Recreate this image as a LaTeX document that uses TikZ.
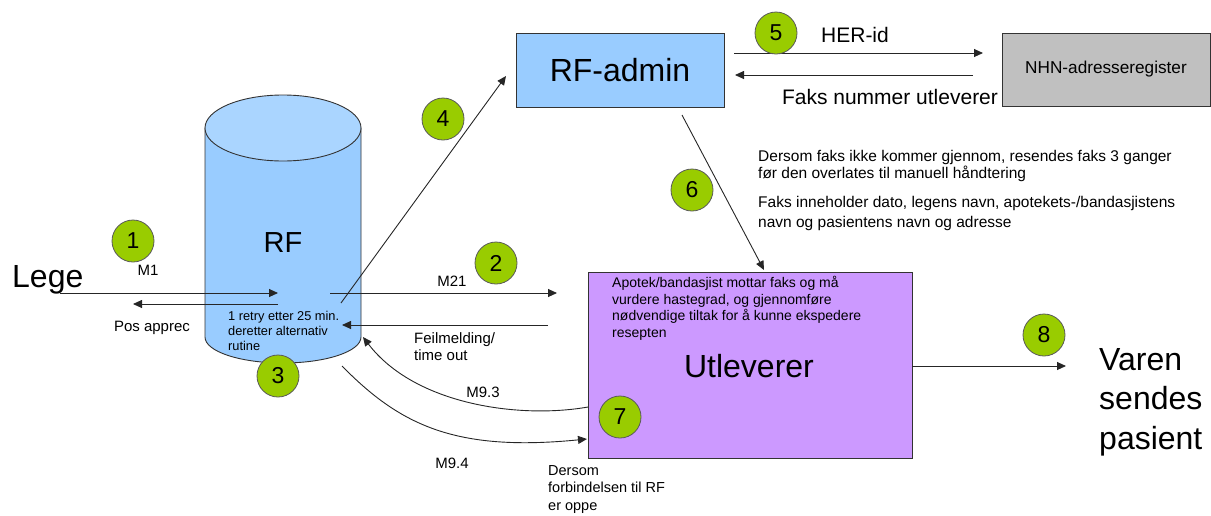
\documentclass[tikz,border=0pt]{standalone}
\usepackage{fontspec}
\setmainfont{Liberation Sans}
\usetikzlibrary{arrows.meta}
\newcommand\fsz[2]{\fontsize{#1}{#2}\selectfont}
\definecolor{rfblue}{HTML}{99CCFF}
\definecolor{rftop}{HTML}{AAD5FF}
\definecolor{lilac}{HTML}{CC99FF}
\definecolor{nhngray}{HTML}{C0C0C0}
\definecolor{stepgreen}{HTML}{99CC00}
\tikzset{
  flow/.style={draw=black!85, line width=0.9pt, -{Triangle[length=9pt,width=8pt]}},
  numdot/.style={circle, draw=black!65, line width=0.8pt, fill=stepgreen,
    minimum size=42pt, inner sep=0pt, font=\fsz{23}{26}},
  box/.style={draw=black!80, line width=0.9pt, inner sep=0pt},
  lbl/.style={inner sep=0pt, font=\fsz{15}{17}},
  note/.style={inner sep=0pt, align=left, anchor=north west},
}
\begin{document}
\begin{tikzpicture}[x=1pt, y=-1pt]
\useasboundingbox (0,0) rectangle (1211,515);

% RF database cylinder
\filldraw[fill=rfblue, draw=black!80, line width=0.9pt]
  (205,128) -- (205,337)
  .. controls (205,351.4) and (239.9,363) .. (283,363)
  .. controls (326.1,363) and (361,351.4) .. (361,337)
  -- (361,128) -- cycle;
\filldraw[fill=rftop, draw=black!80, line width=0.9pt]
  (283,128) ellipse [x radius=78pt, y radius=33pt];
\node[inner sep=0pt, font=\fsz{29}{32}] (rf) at (283,243) {RF};
\node[note, font=\fsz{12.8}{15}] (retry) at (228,311)
  {1 retry etter 25 min.\\deretter alternativ\\rutine};

% Boxes
\node[box, fill=rfblue, minimum width=208pt, minimum height=74pt,
  font=\fsz{32}{36}] (admin) at (620,70) {RF-admin};
\node[box, fill=nhngray, minimum width=208pt, minimum height=73pt,
  font=\fsz{17.2}{19}] (nhn) at (1106,69.5) {NHN-adresseregister};
\node[box, fill=lilac, minimum width=324pt, minimum height=186pt]
  (utl) at (750,365) {};
\node[inner sep=0pt, font=\fsz{32}{36}] (utltitle) at (749,366) {Utleverer};
\node[note, font=\fsz{14}{16.7}] (utltext) at (612,276)
  {Apotek/bandasjist mottar faks og må\\vurdere hastegrad, og gjennomføre\\nødvendige tiltak for å kunne ekspedere\\resepten};

% Free texts
\node[inner sep=0pt, anchor=base west, font=\fsz{32}{34}] (lege) at (12,287) {Lege};
\node[note, font=\fsz{32}{39.5}, anchor=west] (varen) at (1099,402)
  {Varen\\sendes\\pasient};
\node[note, font=\fsz{15.5}{17.5}] (info1) at (758,150)
  {Dersom faks ikke kommer gjennom, resendes faks 3 ganger\\før den overlates til manuell håndtering};
\node[note, font=\fsz{15.5}{20}] (info2) at (758,196)
  {Faks inneholder dato, legens navn, apotekets-/bandasjistens\\navn og pasientens navn og adresse};
\node[note, font=\fsz{14.5}{17.5}] (dersom) at (548,465)
  {Dersom\\forbindelsen til RF\\er oppe};

% Connector end points
\coordinate (legeA) at (60,293);
\coordinate (rfin) at (278,293);
\coordinate (rfback) at (278,304);
\coordinate (posend) at (133,304);
\coordinate (rfout) at (330,293);
\coordinate (m21end) at (557,293);
\coordinate (errstart) at (548,325);
\coordinate (errend) at (342,325);
\coordinate (rfup) at (341,303);
\coordinate (adminin) at (506,76);
\coordinate (herA) at (734,53);
\coordinate (herB) at (983,53);
\coordinate (faxA) at (973,75);
\coordinate (faxB) at (735,75);
\coordinate (adminlow) at (682,115);
\coordinate (utltop) at (764,270);
\coordinate (m93A) at (588,407);
\coordinate (m93B) at (363,337);
\coordinate (m94A) at (342,366);
\coordinate (m94B) at (587,439);
\coordinate (utlright) at (912,366);
\coordinate (shipend) at (1066,366);

% Connectors
\draw[flow] (legeA) -- (rfin);
\draw[flow] (rfback) -- (posend);
\draw[flow] (rfout) -- (m21end);
\draw[flow] (errstart) -- (errend);
\draw[flow] (rfup) -- (adminin);
\draw[flow] (herA) -- (herB);
\draw[flow] (faxA) -- (faxB);
\draw[flow] (adminlow) -- (utltop);
\draw[flow] (m93A) .. controls (520,419) and (415,405) .. (m93B);
\draw[flow] (m94A) .. controls (400,425) and (455,452) .. (m94B);
\draw[flow] (utlright) -- (shipend);

% Connector labels
\node[lbl] (m1) at (148,270) {M1};
\node[lbl] (pos) at (152,328) {Pos apprec};
\node[lbl] (m21) at (452,281) {M21};
\node[note, font=\fsz{15}{17.5}] (feil) at (414,332) {Feilmelding/\\time out};
\node[lbl] (m93) at (483,392) {M9.3};
\node[lbl] (m94) at (452,463) {M9.4};
\node[inner sep=0pt, font=\fsz{21}{24}] (her) at (855,35) {HER-id};
\node[inner sep=0pt, font=\fsz{21}{24}] (fax) at (890,97) {Faks nummer utleverer};

% Step markers
\node[numdot] (s1) at (133,241) {1};
\node[numdot] (s2) at (496,263) {2};
\node[numdot] (s3) at (278,376) {3};
\node[numdot] (s4) at (443,119) {4};
\node[numdot] (s5) at (776,33) {5};
\node[numdot] (s6) at (692,190) {6};
\node[numdot] (s7) at (620,417) {7};
\node[numdot] (s8) at (1044,335) {8};
\end{tikzpicture}
\end{document}
